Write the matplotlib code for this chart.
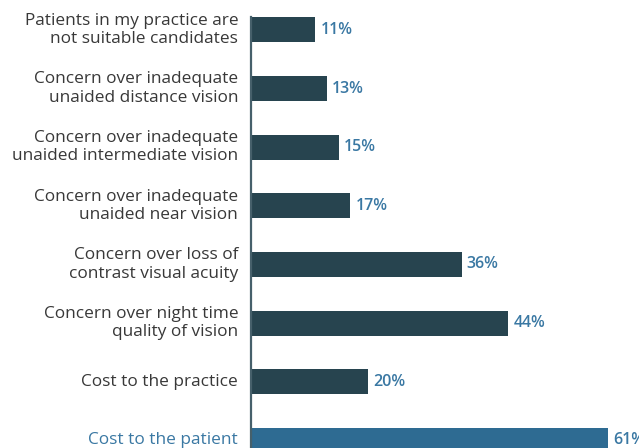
import matplotlib
matplotlib.use("Agg")
import matplotlib.pyplot as plt

categories = [
    "Patients in my practice are\nnot suitable candidates",
    "Concern over inadequate\nunaided distance vision",
    "Concern over inadequate\nunaided intermediate vision",
    "Concern over inadequate\nunaided near vision",
    "Concern over loss of\ncontrast visual acuity",
    "Concern over night time\nquality of vision",
    "Cost to the practice",
    "Cost to the patient",
]
values = [11, 13, 15, 17, 36, 44, 20, 61]
value_labels = ["11%", "13%", "15%", "17%", "36%", "44%", "20%", "61%"]

dark = "#27444f"
blue = "#2e6b92"
label_blue = "#3a78a3"
text_gray = "#383838"

plt.rcParams['font.family'] = ['Open Sans', 'DejaVu Sans']

fig = plt.figure(figsize=(6.39, 4.48), dpi=100)
ax = fig.add_axes([251/639, 0, (639-251)/639, 1])

pos = list(range(len(categories)))
colors = [dark]*(len(categories)-1) + [blue]
y0, step = 30.0, 58.6
bh = 25/step
ax.barh(pos, values, height=bh, color=colors, zorder=2)

ax.set_xlim(0, (639-251)/5.85)
ax.set_ylim((448-y0)/step, -y0/step)

for i, (v, lab) in enumerate(zip(values, value_labels)):
    ax.text(v + 0.85, i, lab, va='center', ha='left', fontsize=11.5,
            fontweight='semibold', color=label_blue)

for i, c in enumerate(categories):
    col = label_blue if i == len(categories)-1 else text_gray
    ax.text(-2.2, i, c, va='center', ha='right', fontsize=12.4,
            color=col, linespacing=1.2, clip_on=False)

for s in ['top', 'right', 'bottom']:
    ax.spines[s].set_visible(False)
ax.spines['left'].set_color('#46606b')
ax.spines['left'].set_linewidth(1.6)
ax.spines['left'].set_bounds(-bh/2, 8)
ax.set_xticks([])
ax.set_yticks([])
ax.patch.set_visible(False)

fig.savefig("out.png", dpi=100)
